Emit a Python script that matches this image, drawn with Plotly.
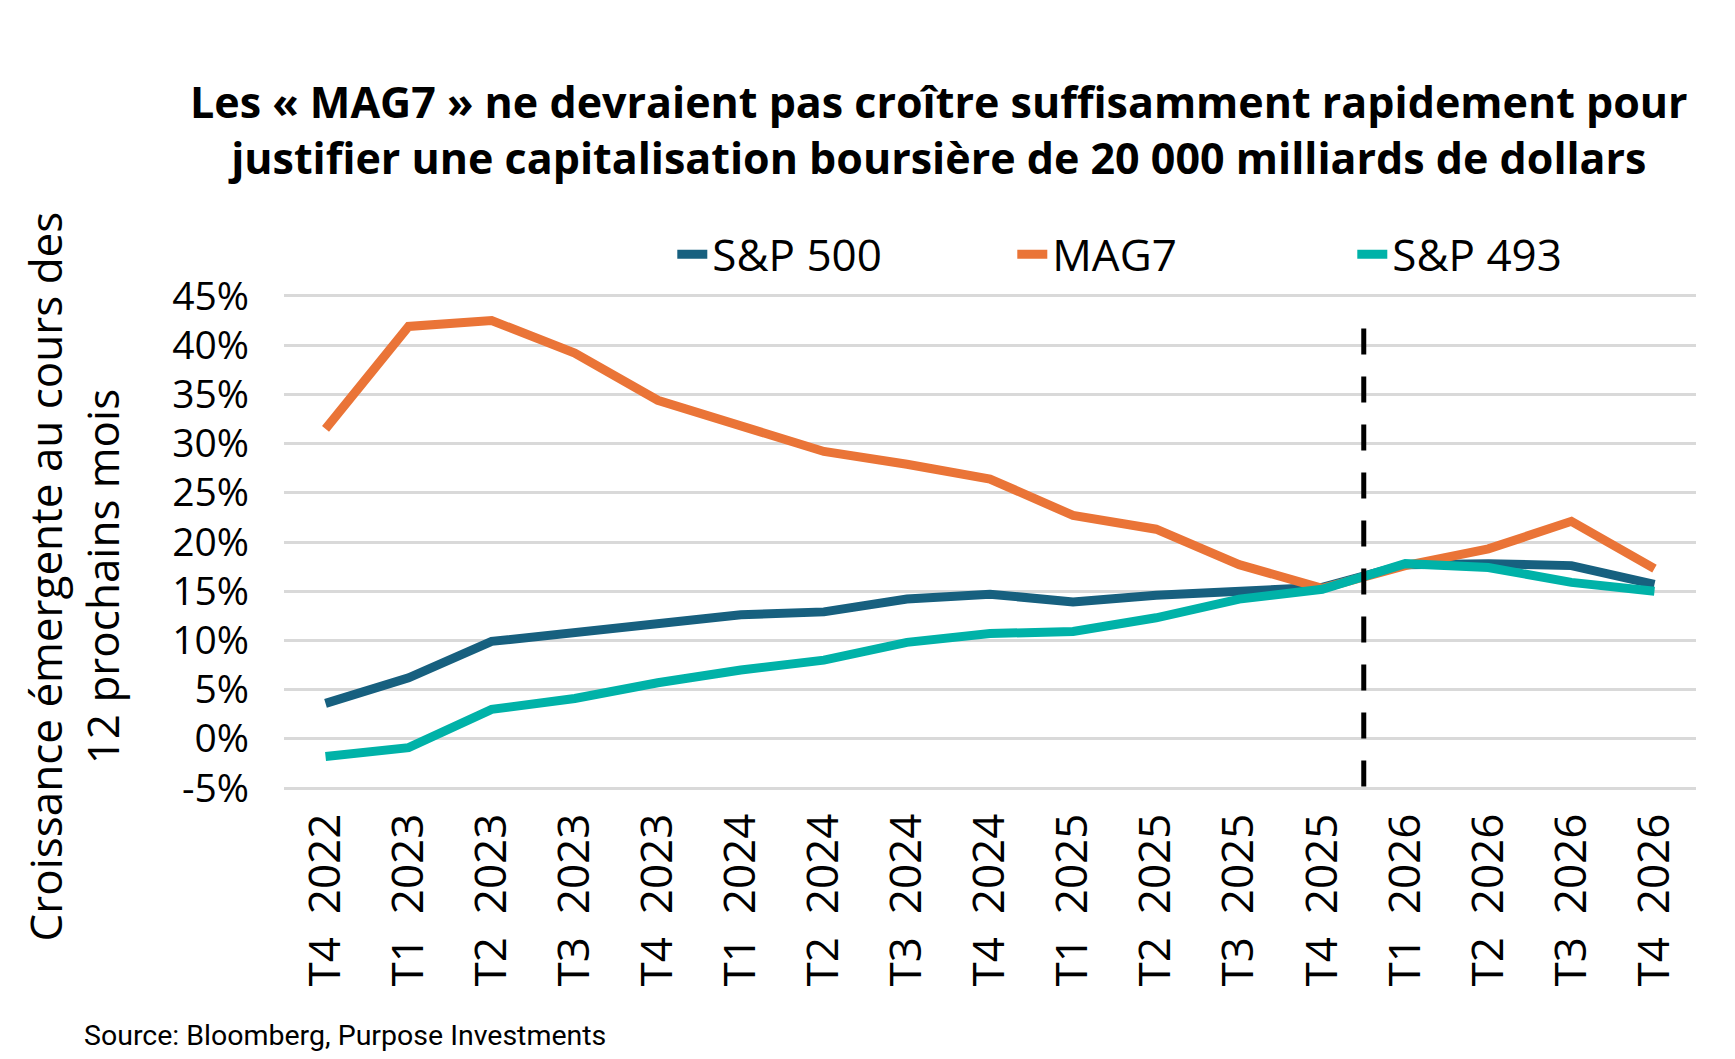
import plotly.graph_objects as go

categories = ["T4 2022", "T1 2023", "T2 2023", "T3 2023", "T4 2023", "T1 2024", "T2 2024",
              "T3 2024", "T4 2024", "T1 2025", "T2 2025", "T3 2025", "T4 2025", "T1 2026",
              "T2 2026", "T3 2026", "T4 2026"]
sp500 = [3.6, 6.2, 9.9, 10.8, 11.6, 12.6, 12.9, 14.2, 14.7, 13.9, 14.6, 15.1, 15.4, 17.7, 17.8, 17.6, 15.7]
mag7 = [31.5, 41.9, 42.5, 39.2, 34.4, 31.9, 29.2, 27.9, 26.4, 22.7, 21.3, 17.7, 15.3, 17.6, 19.3, 22.1, 17.3]
sp493 = [-1.8, -0.9, 3.0, 4.1, 5.7, 7.0, 8.0, 9.8, 10.7, 10.9, 12.3, 14.2, 15.2, 17.8, 17.4, 15.9, 15.0]
y_ticks = [-5, 0, 5, 10, 15, 20, 25, 30, 35, 40, 45]
y_tick_labels = [f"{v}%" for v in y_ticks]
forecast_after = "T4 2025"
forecast_top = 41.7

FONT = "Open Sans"
x_labels = [c.replace(" ", "\u00a0\u00a0") for c in categories]
xs = list(range(len(categories)))

fig = go.Figure()
for name, vals, color in [("S&P 500", sp500, "#17607F"),
                          ("MAG7", mag7, "#EA7437"),
                          ("S&P 493", sp493, "#00B2A8")]:
    fig.add_trace(go.Scatter(x=xs, y=vals, name=name, mode="lines",
                             line=dict(color=color, width=9)))

fx = categories.index(forecast_after) + 0.5
fig.add_shape(type="line", x0=fx, x1=fx, y0=forecast_top, y1=-5, xref="x", yref="y",
              line=dict(color="black", width=5, dash="26px,22px"))

fig.update_layout(
    width=1735, height=1059,
    margin=dict(l=276, r=47, t=285, b=276),
    paper_bgcolor="white", plot_bgcolor="white",
    font=dict(family=FONT, color="black", size=37),
    showlegend=True,
    legend=dict(orientation="h", x=0.275, y=1.077, xanchor="left", yanchor="middle",
                font=dict(size=44, family=FONT), entrywidth=295, entrywidthmode="pixels",
                bgcolor="rgba(0,0,0,0)"),
    hovermode=False,
)
fig.update_xaxes(range=[-0.5, len(categories) - 0.5], tickmode="array", tickvals=xs,
                 ticktext=x_labels, tickangle=-90, showgrid=False, zeroline=False,
                 showline=False, ticks="outside", ticklen=4, tickcolor="rgba(0,0,0,0)",
                 tickfont=dict(size=44, family=FONT))
fig.update_yaxes(range=[-5.3, 45.3], tickmode="array", tickvals=y_ticks, ticktext=y_tick_labels,
                 showgrid=True, gridcolor="#D9D9D9", gridwidth=3, zeroline=False,
                 showline=False, ticks="", ticklabelstandoff=34,
                 tickfont=dict(size=39, family=FONT))

fig.add_annotation(text="Les « MAG7 » ne devraient pas croître suffisamment rapidement pour<br>"
                        "justifier une capitalisation boursière de 20 000 milliards de dollars",
                   xref="paper", yref="paper", x=0.464, y=1.328, xanchor="center", yanchor="middle",
                   showarrow=False, font=dict(family=FONT, size=43, color="black", weight="bold"))
fig.add_annotation(text="Croissance émergente au cours des<br>12 prochains mois",
                   xref="paper", yref="paper", x=-0.149, y=0.43, xanchor="center", yanchor="middle",
                   textangle=-90, showarrow=False, font=dict(family=FONT, size=44, color="black"))
fig.add_annotation(text="Source: Bloomberg, Purpose Investments",
                   xref="paper", yref="paper", x=-0.143, y=-0.49, xanchor="left", yanchor="middle",
                   showarrow=False,
                   font=dict(family="Liberation Sans Narrow, Roboto", size=28.5, color="black"))

fig.write_html("out.html", config={"displayModeBar": False})
